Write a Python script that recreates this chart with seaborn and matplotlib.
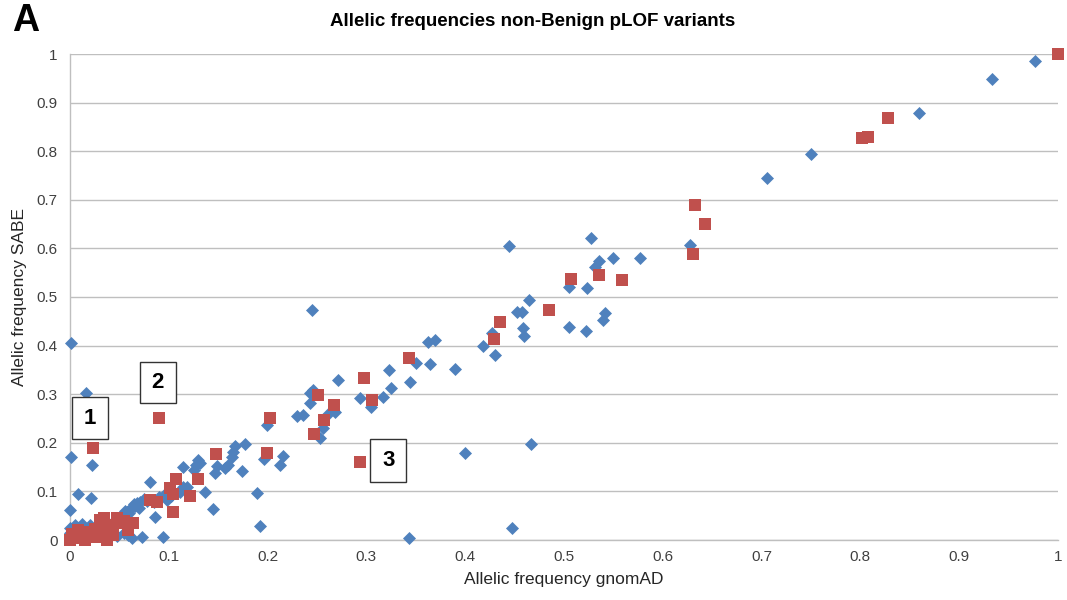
import numpy as np
import matplotlib
matplotlib.use("Agg")
import matplotlib.pyplot as plt
import seaborn as sns
from matplotlib.patches import Rectangle

# Allelic frequencies of pLOF variants: gnomAD (x) vs SABE (y)
# Blue diamonds: all non-Benign pLOF variants
gnomad_all = [
    0.977, 0.933, 0.859, 0.750, 0.705,
    0.628, 0.577, 0.550, 0.535, 0.531, 0.527, 0.444,
    0.505, 0.523, 0.465, 0.452, 0.457, 0.459, 0.460, 0.541, 0.539, 0.505, 0.522,
    0.427, 0.418, 0.430, 0.362, 0.369, 0.350, 0.364, 0.390, 0.344,
    0.245, 0.323, 0.325, 0.271, 0.317, 0.294, 0.305, 0.243, 0.246, 0.243,
    0.268, 0.261, 0.256, 0.253, 0.230, 0.236, 0.199, 0.196, 0.216, 0.213,
    0.177, 0.167, 0.165, 0.164, 0.157, 0.160, 0.147, 0.149, 0.174, 0.132,
    0.400, 0.467, 0.447, 0.343,
    0.001, 0.016, 0.001, 0.022, 0.130, 0.128, 0.126, 0.114, 0.189, 0.192,
    0.118, 0.114, 0.111, 0.137, 0.145, 0.086, 0.081, 0.094, 0.000, 0.008,
    0.021, 0.073, 0.063, 0.059,
    0.046, 0.053, 0.058, 0.063, 0.068, 0.071, 0.043, 0.039, 0.000, 0.000,
    0.005, 0.012, 0.020, 0.028, 0.050, 0.056, 0.060, 0.066, 0.075, 0.078,
    0.090, 0.095, 0.098, 0.102, 0.085, 0.065, 0.070, 0.048, 0.055,
]
sabe_all = [
    0.986, 0.948, 0.879, 0.795, 0.745,
    0.607, 0.580, 0.580, 0.574, 0.562, 0.621, 0.605,
    0.521, 0.519, 0.494, 0.469, 0.469, 0.436, 0.420, 0.467, 0.453, 0.438, 0.430,
    0.426, 0.399, 0.381, 0.407, 0.412, 0.364, 0.362, 0.352, 0.325,
    0.473, 0.350, 0.313, 0.329, 0.294, 0.292, 0.274, 0.302, 0.309, 0.282,
    0.263, 0.259, 0.230, 0.210, 0.255, 0.257, 0.237, 0.167, 0.173, 0.154,
    0.198, 0.193, 0.181, 0.171, 0.148, 0.154, 0.138, 0.152, 0.142, 0.158,
    0.179, 0.198, 0.025, 0.004,
    0.405, 0.302, 0.171, 0.154, 0.165, 0.154, 0.144, 0.150, 0.097, 0.029,
    0.109, 0.109, 0.099, 0.099, 0.064, 0.047, 0.119, 0.006, 0.062, 0.095,
    0.086, 0.006, 0.004, 0.010,
    0.041, 0.051, 0.058, 0.068, 0.076, 0.078, 0.027, 0.021, 0.014, 0.025,
    0.030, 0.032, 0.030, 0.030, 0.045, 0.060, 0.055, 0.070, 0.085, 0.080,
    0.088, 0.092, 0.082, 0.090, 0.078, 0.075, 0.065, 0.008, 0.015,
]

# Red squares: highlighted variants
gnomad_hl = [
    1.000, 0.802, 0.808, 0.828, 0.633, 0.643, 0.631,
    0.535, 0.559, 0.507, 0.485, 0.435, 0.429, 0.343,
    0.298, 0.306, 0.251, 0.267, 0.257, 0.247, 0.202, 0.199, 0.294, 0.148,
    0.090, 0.023,
    0.130, 0.107, 0.101, 0.104, 0.121, 0.104, 0.081, 0.088,
    0.034, 0.051, 0.064, 0.059, 0.005, 0.013, 0.022, 0.027, 0.035, 0.032,
    0.037, 0.008, 0.018, 0.044, 0.000, 0.002, 0.015, 0.025, 0.040, 0.048,
    0.055, 0.030,
]
sabe_hl = [
    1.000, 0.827, 0.829, 0.868, 0.689, 0.650, 0.588,
    0.545, 0.535, 0.537, 0.473, 0.449, 0.414, 0.375,
    0.333, 0.288, 0.298, 0.278, 0.247, 0.218, 0.251, 0.179, 0.160, 0.177,
    0.251, 0.189,
    0.126, 0.126, 0.106, 0.095, 0.091, 0.058, 0.082, 0.078,
    0.045, 0.035, 0.035, 0.021, 0.004, 0.010, 0.006, 0.014, 0.031, 0.006,
    0.000, 0.021, 0.016, 0.010, 0.000, 0.012, 0.000, 0.022, 0.025, 0.045,
    0.040, 0.042,
]

tick_values = [0, 0.1, 0.2, 0.3, 0.4, 0.5, 0.6, 0.7, 0.8, 0.9, 1]
tick_labels = ["0", "0.1", "0.2", "0.3", "0.4", "0.5", "0.6", "0.7", "0.8", "0.9", "1"]
callout_labels = ["1", "2", "3"]

sns.set_theme(style="white")
plt.rcParams['font.family'] = ['Liberation Sans', 'DejaVu Sans']

W, H = 1067, 600
fig = plt.figure(figsize=(W / 100, H / 100), dpi=100)
ax = fig.add_axes([70 / W, 60 / H, 988 / W, 486 / H])

sns.scatterplot(x=gnomad_all, y=sabe_all, marker='D', s=44, color='#4F81BD',
                linewidth=0, ax=ax, zorder=3, clip_on=False)
sns.scatterplot(x=gnomad_hl, y=sabe_hl, marker='s', s=76, color='#C0504D',
                linewidth=0, ax=ax, zorder=4, clip_on=False)

ax.set_xlim(0, 1)
ax.set_ylim(0, 1)
ax.set_xticks(tick_values)
ax.set_xticklabels(tick_labels)
ax.set_yticks(tick_values)
ax.set_yticklabels(tick_labels)
ax.tick_params(axis='both', length=0, labelsize=11, colors='#404040')
ax.tick_params(axis='x', pad=7)
ax.tick_params(axis='y', pad=9)

ax.yaxis.grid(True, color='#BFBFBF', linewidth=1)
ax.xaxis.grid(False)
ax.set_axisbelow(True)
for side in ('top', 'right'):
    ax.spines[side].set_visible(False)
for side in ('left', 'bottom'):
    ax.spines[side].set_color('#BFBFBF')
    ax.spines[side].set_linewidth(1)

ax.set_xlabel("Allelic frequency gnomAD", fontsize=12.5, color='#262626', labelpad=6)
ax.set_ylabel("Allelic frequency SABE", fontsize=12.5, color='#262626', labelpad=7)

fig.text(533 / W, 1 - 22 / H, "Allelic frequencies non-Benign pLOF variants",
         fontsize=13.5, fontweight='bold', ha='center', va='center', color='black')
fig.text(12 / W, 1 - 21 / H, "A", fontsize=27, fontweight='bold',
         ha='left', va='center', color='black')

# Numbered callout boxes (x0, y0, width, height in data units)
boxes = [(0.002, 0.208, 0.036, 0.086),
         (0.071, 0.282, 0.036, 0.084),
         (0.304, 0.119, 0.036, 0.089)]
for (bx, by, bw, bh), lab in zip(boxes, callout_labels):
    ax.add_patch(Rectangle((bx, by), bw, bh, facecolor='white', edgecolor='#333333',
                           linewidth=1.0, zorder=6, clip_on=False))
    ax.text(bx + bw / 2, by + bh / 2, lab, fontsize=16, fontweight='bold',
            ha='center', va='center', zorder=7, color='black')

fig.savefig("out.png", dpi=100)
